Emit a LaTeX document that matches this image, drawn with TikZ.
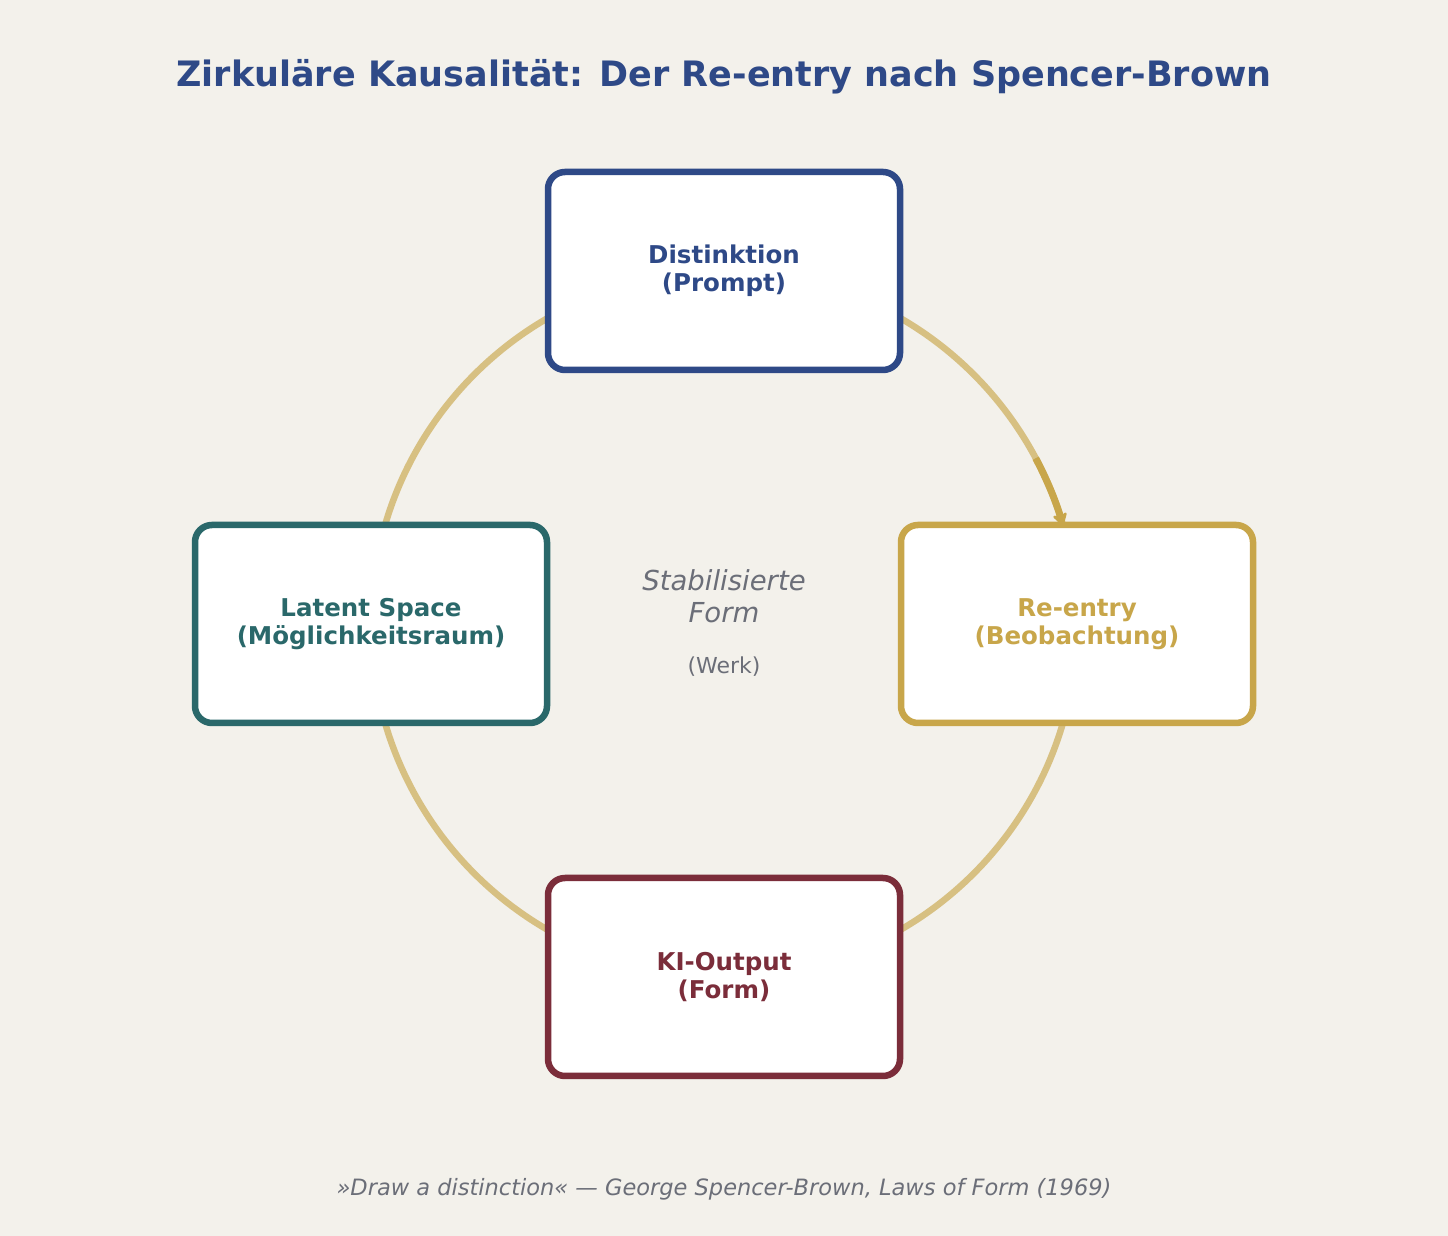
\documentclass[tikz,border=0pt]{standalone}
\usepackage{fontspec}
\setmainfont{DejaVu Sans}
\usetikzlibrary{arrows.meta}
\definecolor{bgpaper}{RGB}{243,241,235}
\definecolor{formblue}{RGB}{46,73,135}
\definecolor{formteal}{RGB}{42,104,106}
\definecolor{formgold}{RGB}{200,166,74}
\definecolor{formred}{RGB}{123,45,58}
\definecolor{formgray}{RGB}{107,110,120}
\begin{document}
\begin{tikzpicture}[x=1pt,y=1pt,
    form node/.style={rectangle,rounded corners=17pt,draw,line width=6.5pt,fill=white,
        minimum width=352pt,minimum height=198pt,align=center,
        font=\bfseries\fontsize{24.5}{28}\selectfont},
    loop line/.style={draw=formgold!65!bgpaper,line width=6.5pt}]
                \fill[bgpaper] (0,0) rectangle (1448,1236);
                \useasboundingbox (0,0) rectangle (1448,1236);

                \node[text=formblue,font=\bfseries\fontsize{35}{42}\selectfont] at (724,1159) (title) {Zirkuläre Kausalität: Der Re-entry nach Spencer-Brown};

                \coordinate (center) at (724,612);
                \draw[loop line] (center) circle (353);

                \node[form node,draw=formblue,text=formblue] at (724,965) (dist) {Distinktion\\(Prompt)};
                \node[form node,draw=formgold,text=formgold] at (1077,612) (reentry) {Re-entry\\(Beobachtung)};
                \node[form node,draw=formred,text=formred] at (724,259) (output) {KI-Output\\(Form)};
                \node[form node,draw=formteal,text=formteal] at (371,612) (latent) {Latent Space\\(Möglichkeitsraum)};

                \node[text=formgray,align=center,font=\itshape\fontsize{27.5}{32}\selectfont] at (724,640) (stable) {Stabilisierte\\Form};
                \node[text=formgray,font=\fontsize{22}{26}\selectfont] at (724,569) (work) {(Werk)};

                \coordinate (arcstart) at ([shift={(28:353)}]center);
                \draw[formgold,line width=7pt,-{Stealth[length=15pt,width=18pt,round]}] (arcstart) arc (28:16.2:353);

                \node[text=formgray,font=\itshape\fontsize{22.5}{26}\selectfont] at (724,47) (quote) {»Draw a distinction« — George Spencer-Brown, Laws of Form (1969)};
\end{tikzpicture}
\end{document}
